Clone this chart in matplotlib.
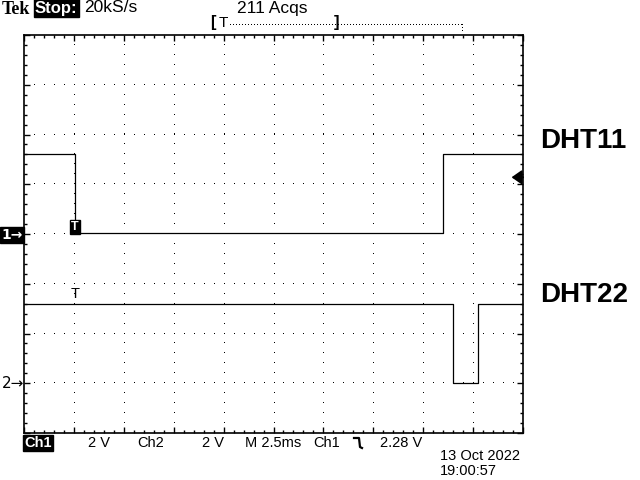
import matplotlib
matplotlib.use("Agg")
import matplotlib.pyplot as plt
from matplotlib.lines import Line2D
import numpy as np

# scope settings
volts_per_div = 2.0
ms_per_div = 2.5
ch1_ground = 4.0   # divisions from bottom
ch2_ground = 0.98

# DHT11 on Ch1 (time in ms, level in V)
ch1_t = [0.0, 2.54, 2.54, 21.0, 21.0, 25.0]
ch1_v = [3.21, 3.21, 0.04, 0.04, 3.21, 3.21]

# DHT22 on Ch2
ch2_t = [0.0, 21.5, 21.5, 22.76, 22.76, 25.0]
ch2_v = [3.23, 3.23, 0.04, 0.04, 3.23, 3.23]

trig_level = 2.28
trig_time = 2.54

plt.rcParams['font.family'] = ['Liberation Sans', 'DejaVu Sans']

fig = plt.figure(figsize=(6.4, 4.8), dpi=100)
fig.patch.set_facecolor("white")

def fx(x):
    return np.asarray(x) / 640.0

def fy(y):
    return 1 - np.asarray(y) / 480.0

# plot area 24..523 x 35..433 px
ax = fig.add_axes([fx(24), fy(433), (523 - 24) / 640.0, (433 - 35) / 480.0])
ax.set_xlim(0, 10)
ax.set_ylim(0, 8)
for s in ax.spines.values():
    s.set_linewidth(1.2)
    s.set_color("black")
ax.set_xticks(np.arange(0, 10.01, 1))
ax.set_yticks(np.arange(0, 8.01, 1))
ax.set_xticks(np.arange(0, 10.01, 0.2), minor=True)
ax.set_yticks(np.arange(0, 8.01, 0.2), minor=True)
ax.tick_params(which="both", direction="in", top=True, right=True,
               labelbottom=False, labelleft=False, color="black")
ax.tick_params(which="major", length=4, width=1)
ax.tick_params(which="minor", length=2.5, width=1)

# dotted graticule
for gx in range(1, 10):
    yy = np.arange(0.2, 8, 0.2)
    ax.plot(np.full_like(yy, gx), yy, ",", color="black")
for gy in range(1, 8):
    xx = np.arange(0.2, 10, 0.2)
    ax.plot(xx, np.full_like(xx, gy), ",", color="black")

# traces
t1 = np.array(ch1_t) / ms_per_div
y1 = np.array(ch1_v) / volts_per_div + ch1_ground
t2 = np.array(ch2_t) / ms_per_div
y2 = np.array(ch2_v) / volts_per_div + ch2_ground
ax.plot(t1, y1, color="black", lw=0.9)
ax.plot(t2, y2, color="black", lw=0.9)

# trigger markers
tx = trig_time / ms_per_div
ax.text(tx, ch1_ground + 0.02, "T", ha="center", va="bottom", color="white",
        fontsize=9, fontweight="bold",
        bbox=dict(boxstyle="square,pad=0.1", fc="black", ec="black"))
ax.text(tx, y2[0] + 0.05, "T", ha="center", va="bottom", color="black", fontsize=10.5)

# trigger level arrow at right edge
ly = trig_level / volts_per_div + ch1_ground
ax.annotate("", xy=(9.77, ly), xytext=(10.0, ly),
            arrowprops=dict(arrowstyle="-|>,head_length=0.5,head_width=0.35",
                            color="black", lw=1.5, mutation_scale=12,
                            shrinkA=0, shrinkB=0))

# channel ground markers
fig.text(fx(1), fy(235), "1\u2192", ha="left", va="center", color="white",
         fontsize=10, fontweight="bold", family="DejaVu Sans",
         bbox=dict(boxstyle="square,pad=0.1", fc="black", ec="black"))
fig.text(fx(2), fy(383), "2\u2192", ha="left", va="center", color="black",
         fontsize=11, family="DejaVu Sans")

# top status line
fig.text(fx(2), fy(9), "Tek", ha="left", va="center", fontsize=13,
         fontweight="bold", family="Liberation Serif")
fig.text(fx(35), fy(8), "Stop:", ha="left", va="center", fontsize=12,
         fontweight="bold", color="white",
         bbox=dict(boxstyle="square,pad=0.08", fc="black", ec="black"))
fig.text(fx(84), fy(8), "20kS/s", ha="left", va="center", fontsize=12.5)
fig.text(fx(237), fy(8), "211 Acqs", ha="left", va="center", fontsize=12.5)

# record view bar
fig.text(fx(210), fy(23), "[", ha="left", va="center", fontsize=12, fontweight="bold")
fig.text(fx(219), fy(23), "T", ha="left", va="center", fontsize=11)
fig.text(fx(334), fy(23), "]", ha="left", va="center", fontsize=12, fontweight="bold")
bx = np.arange(230, 462, 3)
fig.lines.append(Line2D(fx(bx), np.full(len(bx), fy(25)), ls="none", marker=",",
                        color="black", transform=fig.transFigure))
by = np.arange(25, 33, 3)
fig.lines.append(Line2D(np.full(len(by), fx(462)), fy(by), ls="none", marker=",",
                        color="black", transform=fig.transFigure))

# bottom status line
fig.text(fx(24), fy(443), "Ch1", ha="left", va="center", fontsize=10.5,
         fontweight="bold", color="white",
         bbox=dict(boxstyle="square,pad=0.08", fc="black", ec="black"))
fig.text(fx(88), fy(443), "2 V", ha="left", va="center", fontsize=10.5)
fig.text(fx(137), fy(443), "Ch2", ha="left", va="center", fontsize=10.5)
fig.text(fx(202), fy(443), "2 V", ha="left", va="center", fontsize=10.5)
fig.text(fx(245), fy(443), "M 2.5ms", ha="left", va="center", fontsize=10.5)
fig.text(fx(313), fy(443), "Ch1", ha="left", va="center", fontsize=10.5)
# falling edge trigger symbol
fig.lines.append(Line2D(fx([354, 359, 360, 362]), fy([438, 438, 447, 448]),
                        color="black", lw=1.6, transform=fig.transFigure))
fig.text(fx(380), fy(443), "%.2f V" % trig_level, ha="left", va="center", fontsize=10.5)

fig.text(fx(440), fy(456), "13 Oct 2022", ha="left", va="center", fontsize=10.5)
fig.text(fx(440), fy(471), "19:00:57", ha="left", va="center", fontsize=10.5)

# sensor labels
fig.text(fx(540), fy(141), "DHT11", ha="left", va="center", fontsize=20,
         fontweight="bold", family="Liberation Sans")
fig.text(fx(540), fy(295), "DHT22", ha="left", va="center", fontsize=20,
         fontweight="bold", family="Liberation Sans")

fig.savefig("out.png", dpi=100)
